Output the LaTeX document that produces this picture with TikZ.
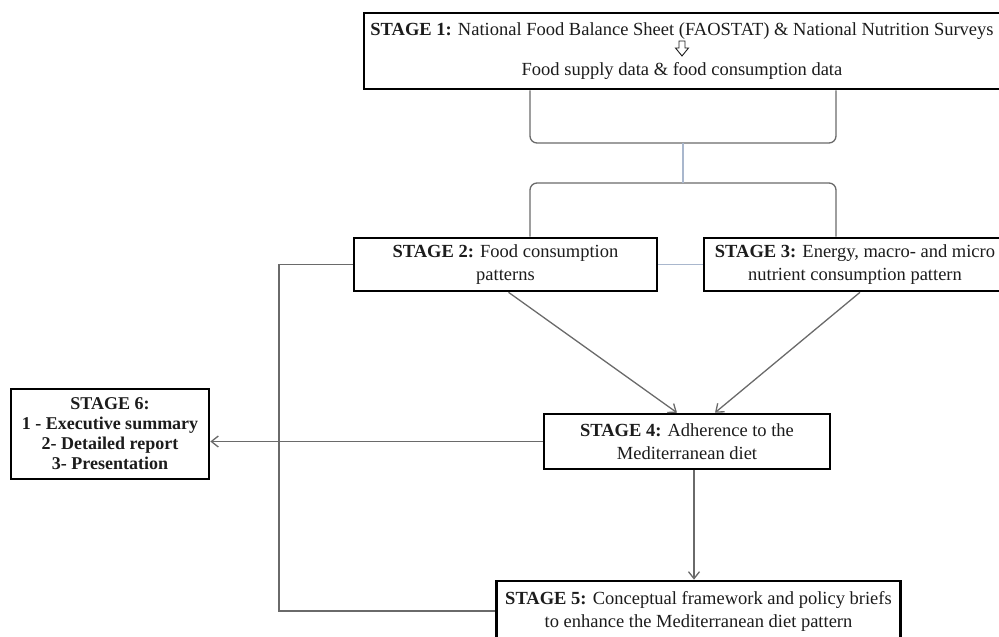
\documentclass[tikz,border=0pt]{standalone}
\usepackage{fontspec}
\setmainfont{Liberation Serif}
\usepackage{tikz}
\usetikzlibrary{positioning, arrows.meta, calc}
\definecolor{lineg}{HTML}{6a6a6a}
\definecolor{linkblue}{HTML}{a9b7cd}
\definecolor{inkgray}{HTML}{1c1c1c}

\tikzset{
    stagebox/.style={draw=black, line width=2.6pt, fill=white, align=center,
        inner sep=3pt, text=inkgray, font=\fontsize{18.5}{23}\selectfont},
    flow/.style={draw=lineg, line width=1.3pt},
    flowarrow/.style={flow, -{Straight Barb[length=7pt, width=11pt]}},
    link/.style={draw=linkblue, line width=1.6pt},
}

\begin{document}
\begin{tikzpicture}[x=1pt, y=-1pt]

\useasboundingbox (0,0) rectangle (999,637);
\clip (0,0) rectangle (999,637);

% Stages
\node[stagebox, minimum width=636, minimum height=76] (s1) at (682,51)
    {\textbf{STAGE 1:} National Food Balance Sheet (FAOSTAT) \& National Nutrition Surveys\\[17pt]
     Food supply data \& food consumption data};
\node[stagebox, minimum width=303, minimum height=53] (s2) at (505.5,264.5)
    {\textbf{STAGE 2:} Food consumption\\patterns};
\node[stagebox, minimum width=302, minimum height=53] (s3) at (855,264.5)
    {\textbf{STAGE 3:} Energy, macro- and micro\\nutrient consumption pattern};
\node[stagebox, minimum width=286, minimum height=55] (s4) at (687,441.5)
    {\textbf{STAGE 4:} Adherence to the\\Mediterranean diet};
\node[stagebox, minimum width=404, minimum height=60] (s5) at (698.5,611)
    {\textbf{STAGE 5:} Conceptual framework and policy briefs\\to enhance the Mediterranean diet pattern};
\node[stagebox, minimum width=198, minimum height=90,
      font=\bfseries\fontsize{18}{20}\selectfont] (s6) at (110,434)
    {STAGE 6:\\1 - Executive summary\\2- Detailed report\\3- Presentation};

% hollow arrow inside stage 1
\draw[inkgray, line width=0.9pt, fill=white, line join=miter]
    ($(s1.center)+(-3,-10)$) -- ++(6,0) -- ++(0,7) -- ++(3.5,0)
    -- ($(s1.center)+(0,5)$) -- ($(s1.center)+(-6.5,-3)$) -- ++(3.5,0) -- cycle;

% Brackets between stage 1 and stages 2/3
\coordinate (bl) at (530,143);
\coordinate (br) at (836,143);
\coordinate (cl) at (530,183);
\coordinate (cr) at (836,183);
\coordinate (loop) at (279,400);

\draw[flow, rounded corners=7] (s1.south -| bl) -- (bl) -- (br) -- (s1.south -| br);
\draw[flow, rounded corners=7] (s2.north -| cl) -- (cl) -- (cr) -- (s3.north -| cr);
\draw[link] ($(bl)!.5!(br)$) -- ($(cl)!.5!(cr)$);
\draw[link] (s2.east) -- (s3.west);

% Flow
\draw[flowarrow] ([xshift=3]s2.south) -- ([xshift=-10]s4.north);
\draw[flowarrow] ([xshift=5]s3.south) -- ([xshift=28]s4.north);
\draw[flowarrow] (s4.west) -- (s4.west -| s6.east);
\draw[flowarrow] ([xshift=7]s4.south) -- ([xshift=7]s4.south |- s5.north);
\draw[flow] (s2.west) -- (s2.west -| loop) |- (s5.west);

\end{tikzpicture}
\end{document}
